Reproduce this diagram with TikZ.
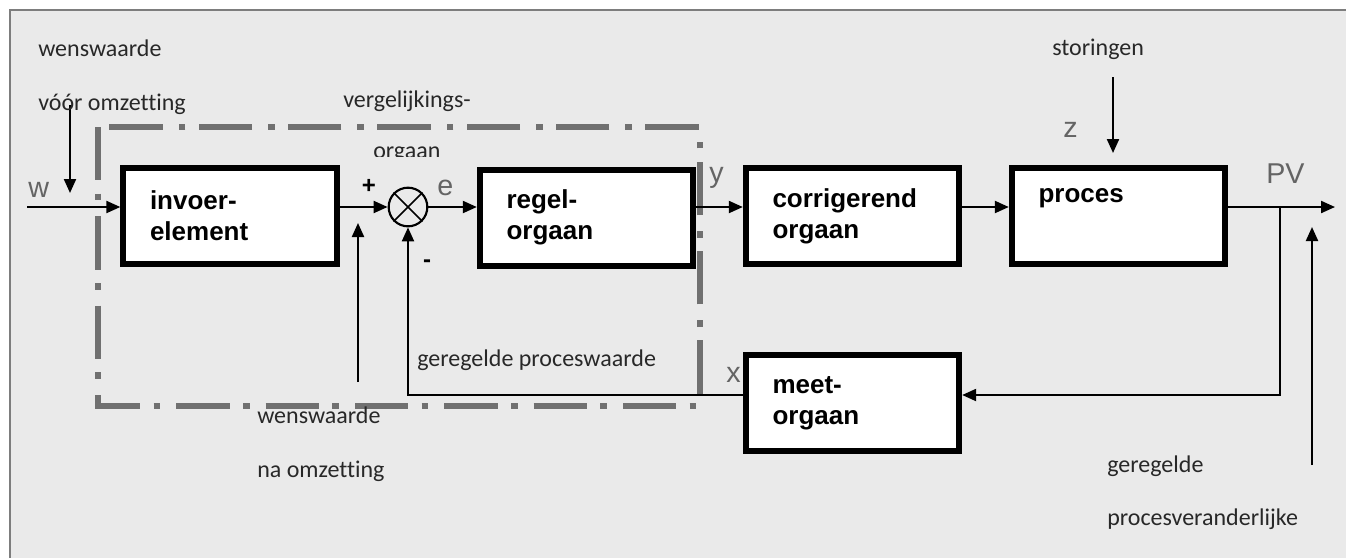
\documentclass[tikz,border=0pt]{standalone}
\usepackage{fontspec}
\setmainfont{Carlito}[Ligatures=CommonOff]
\newfontfamily\arialfont{Liberation Sans}
\usetikzlibrary{arrows.meta}
\definecolor{paper}{RGB}{234,234,234}
\definecolor{framegray}{RGB}{125,125,125}
\definecolor{zonegray}{RGB}{112,112,112}
\definecolor{labelgray}{RGB}{100,100,100}
\definecolor{textdark}{RGB}{40,40,40}

\begin{document}
\begin{tikzpicture}[x=0.75pt,y=-0.75pt,
  blockbox/.style={draw, line width=4.5pt, fill=white, minimum width=160pt,
    minimum height=72pt, text width=120pt, inner xsep=20pt, align=left,
    font=\arialfont\bfseries\fontsize{19.5}{23.5}\selectfont},
  sig/.style={line width=1.6pt, -{Triangle[length=10.5pt,width=9pt]}},
  note/.style={anchor=base west, inner sep=0pt, text=textdark,
    font=\fontsize{18}{20}\selectfont},
  var/.style={anchor=base west, inner sep=0pt, text=labelgray,
    font=\arialfont\fontsize{21.5}{24}\selectfont},
  sign/.style={inner sep=0pt, font=\arialfont\bfseries\fontsize{18}{20}\selectfont},
  zone/.style={draw=zonegray, line width=4pt,
    dash pattern=on 40pt off 10pt on 5pt off 12pt}
]
\useasboundingbox (0,0) rectangle (1346,558);

% sheet and frame
\fill[white] (0,0) rectangle (1346,558);
\fill[paper] (10,10) rectangle (1346,558);
\draw[framegray, line width=1.5pt] (10,558) -- (10,10) -- (1346,10);

% comparator zone
\draw[zone] (98,127) rectangle (700,406);

% blocks
\node[blockbox] (invoer) at (230,215.5) {invoer-\\element};
\node[blockbox] (regel)  at (586.5,217.5) {regel-\\orgaan};
\node[blockbox] (corr)   at (852.5,216) {corrigerend\\orgaan};
\node[blockbox] (proces) at (1118.5,216) {proces\\\strut};
\node[blockbox] (meet)   at (852.5,403) {meet-\\orgaan};

% summing junction
\node[draw, circle, line width=1.6pt, minimum size=29pt, inner sep=0pt] (sum) at (408,207) {};
\draw[line width=1.2pt] (sum.45) -- (sum.225) (sum.135) -- (sum.315);

% free ends
\coordinate (win)  at (27,207);
\coordinate (wtop) at (70,105);
\coordinate (wbot) at (70,193);
\coordinate (nbot) at (358,382);
\coordinate (ntop) at (358,223);
\coordinate (stop) at (1113,77);
\coordinate (sbot) at (1113,153);
\coordinate (out)  at (1335,207);
\coordinate (br)   at (1280,207);
\coordinate (fb)   at (1280,395);
\coordinate (pvb)  at (1312,465);
\coordinate (pvt)  at (1312,227);

% forward path
\draw[sig] (win) -- (win -| invoer.west);
\draw[sig] (wtop) -- (wbot);
\draw[sig] (sum.west -| invoer.east) -- (sum.west);
\draw[sig] (sum.east) -- (sum.east -| regel.west);
\draw[sig] (sum.east -| regel.east) -- (sum.east -| corr.west);
\draw[sig] (sum.east -| corr.east) -- (sum.east -| proces.west);
\draw[sig] (out -| proces.east) -- (out);
\draw[sig] (stop) -- (sbot);
\draw[sig] (nbot) -- (ntop);
\draw[sig] (pvb) -- (pvt);

% feedback path
\draw[sig] (br) -- (fb) -- (fb -| meet.east);
\draw[sig] (fb -| meet.west) -- (sum.south |- fb) -- (sum.south);

% signs
\node[sign] (plus) at (369,186) {+};
\node[sign] (minus) at (427,264) {-};

% signal letters
\node[var] (lw)  at (28,197) {w};
\node[var] (le)  at (437,195) {e};
\node[var] (ly)  at (709,182) {y};
\node[var] (lz)  at (1063,137) {z};
\node[var] (lpv) at (1266,183) {PV};
\node[var] (lx)  at (726,382) {x};

% descriptions
\node[note] (t1) at (38,56) {wenswaarde};
\node[note] (t2) at (38,110) {vóór omzetting};
\node[note] (t3) at (343,107) {vergelijkings-};
\begin{scope}
  \clip (340,130) rectangle (480,156);
  \node[note] (t4) at (373,158) {orgaan};
\end{scope}
\node[note] (t5) at (417,366) {geregelde proceswaarde};
\node[note] (t6) at (257,423) {wenswaarde};
\node[note] (t7) at (257,477) {na omzetting};
\node[note] (t8) at (1052,55) {storingen};
\node[note] (t9) at (1107,472) {geregelde};
\node[note] (t10) at (1107,525) {procesveranderlijke};

\end{tikzpicture}
\end{document}
